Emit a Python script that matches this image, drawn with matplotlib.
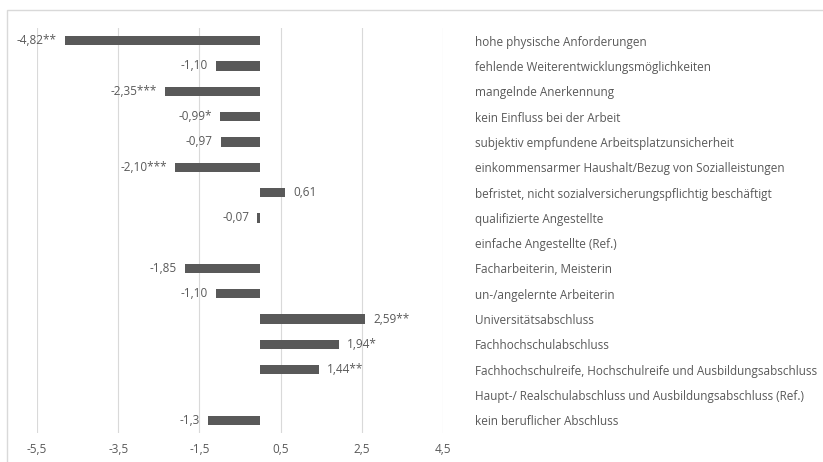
import matplotlib.pyplot as plt
from matplotlib.patches import Rectangle

# categories top -> bottom
categories = ["hohe physische Anforderungen",
              "fehlende Weiterentwicklungsmöglichkeiten",
              "mangelnde Anerkennung",
              "kein Einfluss bei der Arbeit",
              "subjektiv empfundene Arbeitsplatzunsicherheit",
              "einkommensarmer Haushalt/Bezug von Sozialleistungen",
              "befristet, nicht sozialversicherungspflichtig beschäftigt",
              "qualifizierte Angestellte",
              "einfache Angestellte (Ref.)",
              "Facharbeiterin, Meisterin",
              "un-/angelernte Arbeiterin",
              "Universitätsabschluss",
              "Fachhochschulabschluss",
              "Fachhochschulreife, Hochschulreife und Ausbildungsabschluss",
              "Haupt-/ Realschulabschluss und Ausbildungsabschluss (Ref.)",
              "kein beruflicher Abschluss"]
values = [-4.82, -1.10, -2.35, -0.99, -0.97, -2.10, 0.61, -0.07,
          None, -1.85, -1.10, 2.59, 1.94, 1.44, None, -1.3]
value_labels = ["-4,82**", "-1,10", "-2,35***", "-0,99*", "-0,97", "-2,10***",
                "0,61", "-0,07", "", "-1,85", "-1,10", "2,59**", "1,94*",
                "1,44**", "", "-1,3"]
xticks = [-5.5, -3.5, -1.5, 0.5, 2.5, 4.5]
xtick_labels = ["-5,5", "-3,5", "-1,5", "0,5", "2,5", "4,5"]

grey = "#595959"
plt.rcParams['font.family'] = ['Open Sans', 'DejaVu Sans']
fs = 8.5

fig = plt.figure(figsize=(8.23, 4.62), dpi=100)
fig.patches.append(Rectangle((7/823, -0.1), 1.0, 1 - 10/462 + 0.1,
                             transform=fig.transFigure, fill=False,
                             edgecolor="#d9d9d9", linewidth=1))
ax = fig.add_axes([37/823, 1 - 433/462, (443 - 37)/823, (433 - 28)/462])

n = len(categories)
ypos = list(range(n))
for y, v, lab in zip(ypos, values, value_labels):
    if v is None:
        continue
    ax.barh(y, v, height=0.37, color=grey, zorder=3)
    if v < 0:
        ax.text(v - 0.2, y, lab, ha="right", va="center", fontsize=fs, color=grey)
    else:
        ax.text(v + 0.2, y, lab, ha="left", va="center", fontsize=fs, color=grey)

ax.set_xlim(-5.5, 4.5)
ax.set_ylim(n - 0.5, -0.5)
ax.set_xticks(xticks)
ax.set_xticklabels(xtick_labels, fontsize=fs, color=grey)
ax.grid(axis="x", color="#d9d9d9", linewidth=0.8, zorder=0)
ax.set_yticks(ypos)
ax.set_yticklabels(categories, fontsize=fs, color=grey)
ax.yaxis.tick_right()
ax.tick_params(axis="y", length=0, pad=23)
ax.tick_params(axis="x", length=0, pad=7)
for s in ax.spines.values():
    s.set_visible(False)

fig.savefig("out.png", dpi=100)
